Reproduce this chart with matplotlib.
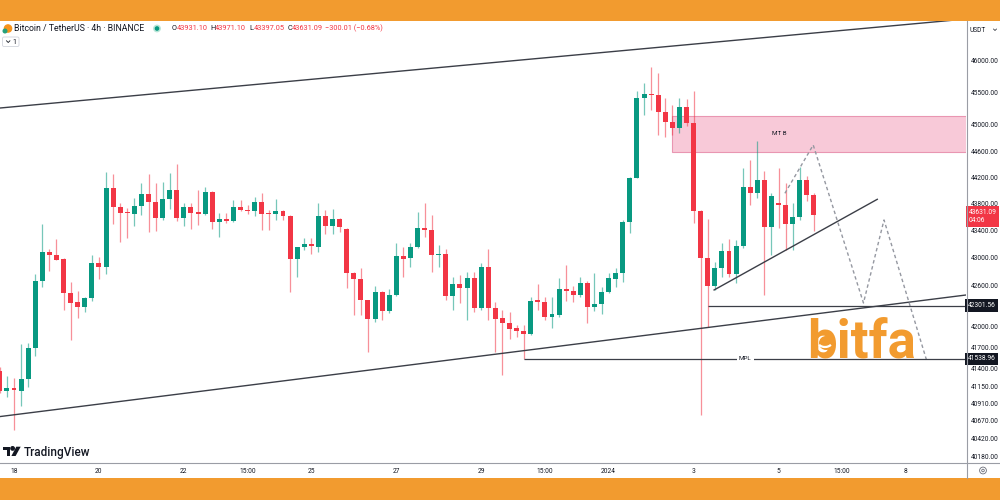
import numpy as np
import matplotlib.pyplot as plt
from matplotlib.patches import Rectangle, Circle, Polygon, FancyBboxPatch, Arc
from matplotlib.transforms import blended_transform_factory
from matplotlib.ticker import FixedLocator, NullLocator, FuncFormatter

plt.rcParams['font.family'] = ['Roboto', 'DejaVu Sans']

## BTC/USDT 4h candles (candle index 0 = Dec 18 00:00)
first_idx = -2
opens = [41371, 41089, 41123, 41089, 41254, 41695, 42660, 43080, 43035, 42978,
         42481, 42350, 42283, 42418, 42928, 42860, 44035, 43749, 43679, 43650,
         43769, 43946, 43834, 43585, 43870, 44009, 43585, 43759, 43679, 43654,
         43979, 43530, 43575, 43545, 43759, 43709, 43699, 43834, 43660, 43645,
         43690, 43625, 42987, 43155, 43208, 43165, 43625, 43470, 43580, 43431,
         42772, 42685, 42384, 42105, 42504, 42230, 42452, 43026, 42990, 43155,
         43436, 43411, 43040, 43055, 42436, 42612, 42563, 42700, 42263, 42860,
         42263, 42120, 42056, 41980, 41941, 41894, 42384, 42355, 42143, 42160,
         42539, 42519, 42456, 42626, 42278, 42326, 42495, 42690, 42782, 43526,
         44195, 45415, 45478, 45456, 45200, 45045, 44948, 45282, 45025, 43699,
         42993, 42587, 42845, 43105, 42763, 43179, 44050, 43959, 44160, 43461,
         43810, 43790, 43500, 43610, 44160, 43931.10]
highs = [41420, 41300, 41264, 41746, 41760, 42758, 43500, 43134, 43273, 42990,
         42650, 42519, 42430, 43035, 43006, 44287, 44250, 43818, 43739, 43884,
         44115, 44250, 44120, 44125, 44265, 44400, 43810, 43810, 44005, 44050,
         43990, 43660, 43660, 43859, 43859, 43784, 43909, 43960, 43709, 43870,
         43709, 43640, 43160, 43288, 43288, 43810, 43709, 43720, 43590, 43440,
         42797, 42845, 42390, 42587, 42510, 42540, 43223, 43155, 43223, 43684,
         43810, 43630, 43190, 43134, 42724, 42748, 42787, 42787, 42920, 43125,
         42360, 42239, 42206, 42023, 42023, 42423, 42617, 42423, 42432, 42700,
         42895, 42587, 42724, 42665, 42772, 42578, 42772, 42845, 43560, 44200,
         45520, 45656, 45897, 45812, 45410, 45307, 45420, 45395, 45520, 43710,
         43570, 42943, 43223, 43273, 43263, 44335, 44463, 44753, 44300, 43960,
         44335, 44110, 43810, 44360, 44220, 43971.10]
lows = [41050, 40995, 40540, 40874, 41146, 41580, 42570, 42811, 42960, 42239,
        41808, 42120, 42206, 42374, 42685, 42763, 43500, 43238, 43288, 43470,
        43630, 43386, 43396, 43560, 43724, 43550, 43470, 43420, 43485, 43635,
        43431, 43302, 43510, 43535, 43700, 43650, 43620, 43411, 43411, 43560,
        43560, 42504, 42724, 43115, 43056, 43090, 43352, 43352, 43386, 42554,
        42160, 42160, 41640, 42070, 42095, 42200, 42440, 42724, 42870, 43140,
        43313, 42797, 42870, 42384, 42239, 42336, 42095, 42215, 42239, 42100,
        41640, 41310, 41822, 41855, 41538.96, 41880, 42239, 42095, 41975, 42143,
        42370, 42360, 42432, 42047, 42225, 42182, 42480, 42578, 42650, 43371,
        44185, 45153, 45230, 44845, 44820, 44845, 44870, 44980, 43510, 40750,
        42000, 42529, 42724, 42724, 42626, 43140, 43784, 43884, 42456, 43040,
        43436, 43115, 43115, 43560, 43840, 43397.05]
closes = [41089, 41123, 41099, 41259, 41698, 42660, 43085, 43035, 42968, 42481,
          42336, 42283, 42418, 42928, 42860, 44035, 43749, 43669, 43660, 43769,
          43946, 43825, 43585, 43870, 44009, 43585, 43759, 43669, 43654, 43979,
          43530, 43570, 43545, 43759, 43709, 43694, 43834, 43650, 43645, 43690,
          43625, 42987, 43155, 43208, 43170, 43625, 43470, 43580, 43450, 42772,
          42685, 42384, 42105, 42504, 42230, 42452, 43026, 42988, 43155, 43436,
          43411, 43040, 43060, 42436, 42612, 42563, 42700, 42263, 42860, 42263,
          42110, 42056, 41960, 41941, 41894, 42374, 42355, 42143, 42177, 42539,
          42519, 42456, 42626, 42278, 42326, 42495, 42700, 42782, 43526, 44195,
          45415, 45478, 45456, 45200, 45045, 44948, 45282, 45025, 43699, 42993,
          42587, 42845, 43105, 42763, 43179, 44050, 43959, 44160, 43461, 43919,
          43790, 43500, 43610, 44160, 43934, 43631.09]

time_ticks = [0, 12, 24, 33, 42, 54, 66, 75, 84, 96, 108, 117, 126]
time_labels = ['18', '20', '22', '15:00', '25', '27', '29', '15:00', '2024', '3', '5', '15:00', '8']
price_ticks = [40180, 40420, 40670, 40910, 41150, 41400, 41700, 42000, 42600,
               43000, 43400, 43800, 44200, 44600, 45000, 45500, 46000]

## drawings, in (candle index, price)
channel_x = [-1.98, 134.5]
channel_top = [45261, 46661]
channel_bottom = [40726, 42456]
trend_x = [98.9, 121.95]
trend_y = [42529, 43869]
zigzag_x = [108.9, 112.9, 120.0, 122.9, 128.9]
zigzag_y = [43959, 44692, 42340, 43560, 41523]
mtb_left, mtb_low, mtb_high = 92.9, 44592, 45137
mtb_text = (108.1, 44861)
level_a, level_a_start = 42301.56, 98
mpl_level, mpl_start, mpl_text_x = 41538.96, 72, 103.3

GREEN = '#089981'
RED = '#F23645'
LINE = '#3b3e47'
ORANGE = '#F29B2F'
TXT = '#131722'

W, H = 1000, 500
fig = plt.figure(figsize=(10, 5), dpi=100)
ax = fig.add_axes([0, (H - 462.7) / H, 966 / W, (462.7 - 21) / H])
ax.set_yscale('log')
xmax = (966 - 14) / 7.079
ax.set_xlim(-14 / 7.079, xmax)
ax.set_ylim(40088, 46629)
for s in ax.spines.values():
    s.set_visible(False)

# candles
idx = np.arange(first_idx, first_idx + len(opens))
o, h, l, c = map(np.array, (opens, highs, lows, closes))
cols = np.where(c >= o, GREEN, RED)
ax.vlines(idx, l, h, colors=cols, lw=0.9, alpha=0.55, zorder=2)
body = np.maximum(np.abs(c - o), c * 0.0005)
ax.bar(idx, body, bottom=np.minimum(o, c), width=0.7, color=cols, lw=0, zorder=3)

# drawings
ax.plot(channel_x, channel_top, color=LINE, lw=1, zorder=4)
ax.plot(channel_x, channel_bottom, color=LINE, lw=1, zorder=4)
ax.plot(trend_x, trend_y, color=LINE, lw=1, zorder=4)
ax.plot(zigzag_x, zigzag_y, color='#9598a1', lw=1, ls=(0, (2.5, 2)), zorder=4)
ax.add_patch(Rectangle((mtb_left, mtb_low), xmax - mtb_left + 1, mtb_high - mtb_low,
                       fc='#f8c9d8', ec='#e996b2', lw=0.8, zorder=1))
ax.text(*mtb_text, 'MT B', fontsize=4.5, ha='center', va='center', color=TXT, zorder=5)
ax.hlines(level_a, level_a_start, xmax, color=LINE, lw=0.9, zorder=4)
ax.hlines(mpl_level, mpl_start, xmax, color=LINE, lw=0.9, zorder=4)
ax.text(mpl_text_x, mpl_level, 'MPL', fontsize=4.5, ha='center', va='center', color=TXT, zorder=5,
        bbox=dict(boxstyle='square,pad=0.3', fc='white', ec='none'))

# price axis
ax.yaxis.tick_right()
ax.yaxis.set_major_locator(FixedLocator(price_ticks))
ax.yaxis.set_minor_locator(NullLocator())
ax.yaxis.set_major_formatter(FuncFormatter(lambda v, p: f'{v:.2f}'))
ax.tick_params(axis='y', which='both', length=0, pad=3.3, labelsize=4.8, labelcolor=TXT)
ax.set_xticks(time_ticks)
ax.set_xticklabels(time_labels)
ax.tick_params(axis='x', length=0, pad=4, labelsize=4.8, labelcolor=TXT)

tr = blended_transform_factory(ax.transAxes, ax.transData)
for v in (level_a, mpl_level):
    ax.text(1.002, v, f'{v:.2f}', transform=tr, ha='left', va='center', fontsize=4.8, color='white',
            bbox=dict(boxstyle='square,pad=0.4', fc=TXT, ec='none'), clip_on=False, zorder=10)
ax.annotate(f'{closes[-1]:.2f}\n04:06', xy=(1.0, closes[-1]), xycoords=tr, xytext=(2, 4.5),
            textcoords='offset points', ha='left', va='top', fontsize=4.8, color='white',
            linespacing=1.2, annotation_clip=False,
            bbox=dict(boxstyle='square,pad=0.4', fc=RED, ec='none'))

# overlay in pixel coordinates for the frame, header and logos
ov = fig.add_axes([0, 0, 1, 1], zorder=10)
ov.set_xlim(0, W)
ov.set_ylim(H, 0)
ov.axis('off')
ov.patch.set_alpha(0)

ov.add_patch(Rectangle((0, 0), W, 21, color=ORANGE, lw=0))
ov.add_patch(Rectangle((0, 478), W, 22, color=ORANGE, lw=0))
ov.plot([966.5, 966.5], [21, 478], color='#9a9da5', lw=0.8)
ov.plot([0, W], [462.7, 462.7], color='#9a9da5', lw=0.8)

# header
ov.add_patch(Circle((8, 28.5), 3.6, color='#F7931A'))
ov.add_patch(Circle((5, 31), 1.8, color='#26A17B'))
ov.text(14, 28.5, 'Bitcoin / TetherUS · 4h · BINANCE', fontsize=6.3, color=TXT, va='center', ha='left')
ov.add_patch(Circle((157, 28.5), 3.2, color='#b9e6d8'))
ov.add_patch(Circle((157, 28.5), 1.6, color=GREEN))
ohlc = [('O', 171.7, f'{opens[-1]:.2f}'), ('H', 210, f'{highs[-1]:.2f}'),
        ('L', 249.3, f'{lows[-1]:.2f}'), ('C', 287.3, f'{closes[-1]:.2f}')]
for k, x, v in ohlc:
    ov.text(x, 28.5, k, fontsize=5.3, color=TXT, va='center', ha='left')
    ov.text(x + 4.8, 28.5, v, fontsize=5.3, color=RED, va='center', ha='left')
ov.text(325, 28.5, '\u2212300.01 (\u22120.68%)', fontsize=5.3, color=RED, va='center', ha='left')
ov.add_patch(FancyBboxPatch((2.5, 37), 16.5, 9.5, boxstyle='round,pad=0,rounding_size=1.5',
                            fc='white', ec='#d1d4dc', lw=0.6))
ov.plot([6.5, 8.2, 9.9], [40.8, 42.5, 40.8], color=TXT, lw=0.6)
ov.text(12.5, 42, '1', fontsize=5, color=TXT, va='center', ha='left')

# axis corner items
ov.text(970, 30, 'USDT', fontsize=4.8, color=TXT, va='center', ha='left')
ov.plot([993.5, 995, 996.5], [29, 30.5, 29], color=TXT, lw=0.5)
ov.add_patch(Circle((983, 470.5), 3.4, fc='none', ec='#6a6d78', lw=0.6))
ov.add_patch(Circle((983, 470.5), 1.3, fc='none', ec='#6a6d78', lw=0.6))

# TradingView watermark
ov.add_patch(Rectangle((3.3, 446.7), 7, 2.8, color=TXT, lw=0))
ov.add_patch(Rectangle((6.5, 446.7), 3.2, 9.3, color=TXT, lw=0))
ov.add_patch(Circle((12.6, 448.4), 1.7, color=TXT))
ov.add_patch(Polygon([(16.3, 446.7), (20.7, 446.7), (15.6, 456), (11.4, 456)], color=TXT, lw=0))
ov.text(23.5, 456.3, 'TradingView', fontsize=8.5, fontweight='medium', color=TXT,
        va='baseline', ha='left')

# bitfa logo: filled bowl on the b with a white smile
ov.text(807, 357, 'bitfa', fontsize=38, fontweight='bold', color=ORANGE, va='baseline', ha='left')
ov.add_patch(Circle((826, 343), 7, color=ORANGE, lw=0, zorder=5))
ov.add_patch(Arc((825, 342), 14, 10, theta1=25, theta2=155, color='white', lw=1.6, zorder=6))

fig.savefig('out.png', dpi=100)
